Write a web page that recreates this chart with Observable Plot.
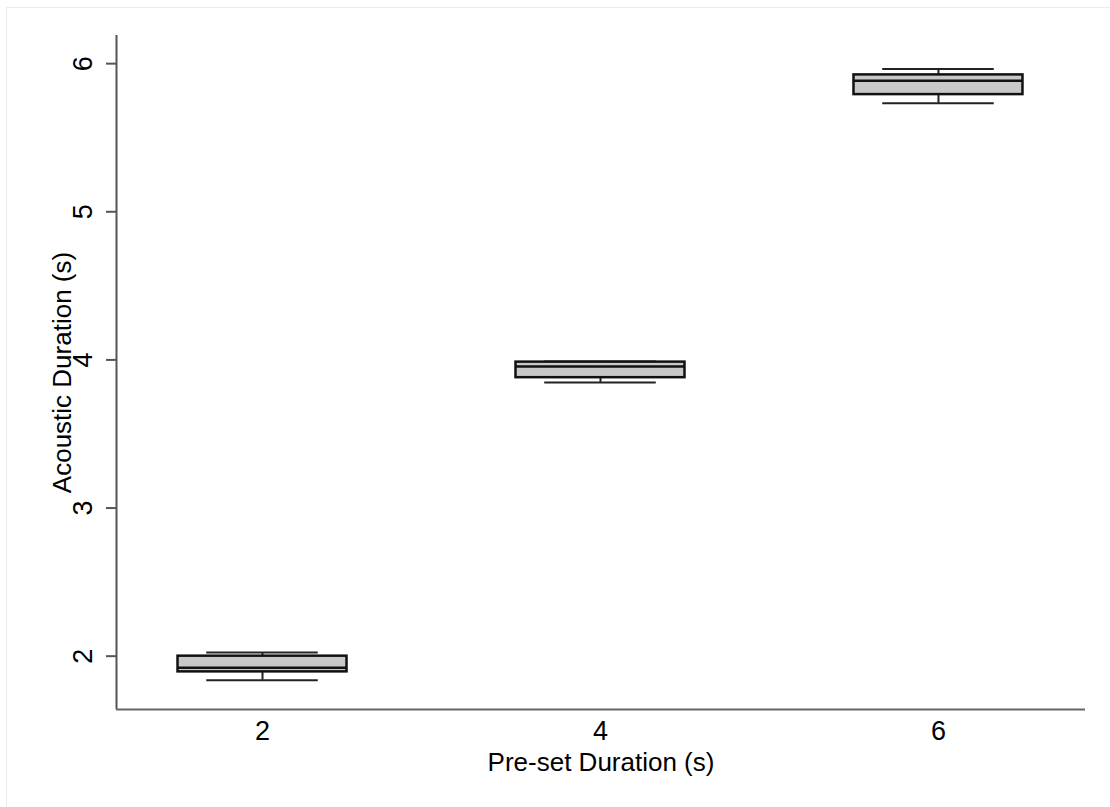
<!DOCTYPE html>
<html>
<head>
<meta charset="utf-8">
<script src="https://cdn.jsdelivr.net/npm/d3@7"></script>
<script src="https://cdn.jsdelivr.net/npm/@observablehq/plot@0.6"></script>
<style>
  html, body { margin: 0; padding: 0; background: #fff; }
  #wrap { position: relative; width: 1110px; height: 807px; overflow: hidden; }
  #border { position: absolute; left: 6px; top: 7px; right: 0; bottom: 0;
            border-left: 1px solid #e4ecec; border-top: 1px solid #e4ecec; pointer-events: none; }
  #chart { position: absolute; left: 0; top: 0; }
</style>
</head>
<body>
<div id="wrap"><div id="chart"></div><div id="border"></div></div>
<script>
// Data
const presets      = [2, 4, 6];
const lowerWhisker = [1.838, 3.848, 5.732];
const q1           = [1.894, 3.880, 5.791];
const median       = [1.921, 3.956, 5.885];
const q3           = [2.000, 3.985, 5.924];
const upperWhisker = [2.025, 3.990, 5.964];
const yTicks = [2, 3, 4, 5, 6];
const xTicks = [2, 4, 6];
const xTitle = "Pre-set Duration (s)";
const yTitle = "Acoustic Duration (s)";

const boxes = presets.map((p, i) => ({
  preset: p, lo: lowerWhisker[i], q1: q1[i], median: median[i], q3: q3[i], hi: upperWhisker[i]
}));

const xDomain = [1.136, 6.87];
const yDomain = [1.64, 6.19];
const boxHalf = 0.5;
const capHalf = 0.33;
const font = "'Liberation Sans', Arial, Helvetica, sans-serif";

const chart = Plot.plot({
  width: 1110,
  height: 807,
  marginLeft: 116,
  marginRight: 25,
  marginTop: 35,
  marginBottom: 98,
  style: { fontFamily: font, color: "black", background: "transparent" },
  x: { type: "linear", domain: xDomain, axis: null },
  y: { type: "linear", domain: yDomain, axis: null },
  marks: [
    // axis lines
    Plot.ruleX([xDomain[0]], { stroke: "#555", strokeWidth: 2 }),
    Plot.ruleY([yDomain[0]], { stroke: "#666", strokeWidth: 2 }),
    Plot.axisY({ ticks: yTicks, tickSize: 10, tickFormat: () => "", label: null, stroke: "#555", strokeWidth: 2 }),
    // whiskers
    Plot.ruleX(boxes, { x: "preset", y1: "lo", y2: "q1", stroke: "#222", strokeWidth: 2 }),
    Plot.ruleX(boxes, { x: "preset", y1: "q3", y2: "hi", stroke: "#222", strokeWidth: 2 }),
    Plot.ruleY(boxes, { y: "lo", x1: d => d.preset - capHalf, x2: d => d.preset + capHalf, stroke: "#222", strokeWidth: 2 }),
    Plot.ruleY(boxes, { y: "hi", x1: d => d.preset - capHalf, x2: d => d.preset + capHalf, stroke: "#222", strokeWidth: 2 }),
    // boxes
    Plot.rect(boxes, { x1: d => d.preset - boxHalf, x2: d => d.preset + boxHalf, y1: "q1", y2: "q3",
                       fill: "#c8c8c8", stroke: "#111", strokeWidth: 2.5 }),
    Plot.ruleY(boxes, { y: "median", x1: d => d.preset - boxHalf, x2: d => d.preset + boxHalf, stroke: "#111", strokeWidth: 2.5 }),
    // tick labels
    Plot.text(yTicks, { x: xDomain[0], y: d => d, text: d => String(d), rotate: -90, dx: -33,
                        textAnchor: "middle", lineAnchor: "middle", fontSize: 27, fill: "black" }),
    Plot.text(xTicks, { x: d => d, y: yDomain[0], text: d => String(d), dy: 22,
                        textAnchor: "middle", lineAnchor: "middle", fontSize: 27, fill: "black" }),
    // axis titles
    Plot.text([xTitle], { frameAnchor: "bottom", dy: 53, textAnchor: "middle", lineAnchor: "middle", fontSize: 26, fill: "black" }),
    Plot.text([yTitle], { frameAnchor: "left", rotate: -90, dx: -54, textAnchor: "middle", lineAnchor: "middle", fontSize: 26, fill: "black" })
  ]
});
document.getElementById("chart").appendChild(chart);
</script>
</body>
</html>
